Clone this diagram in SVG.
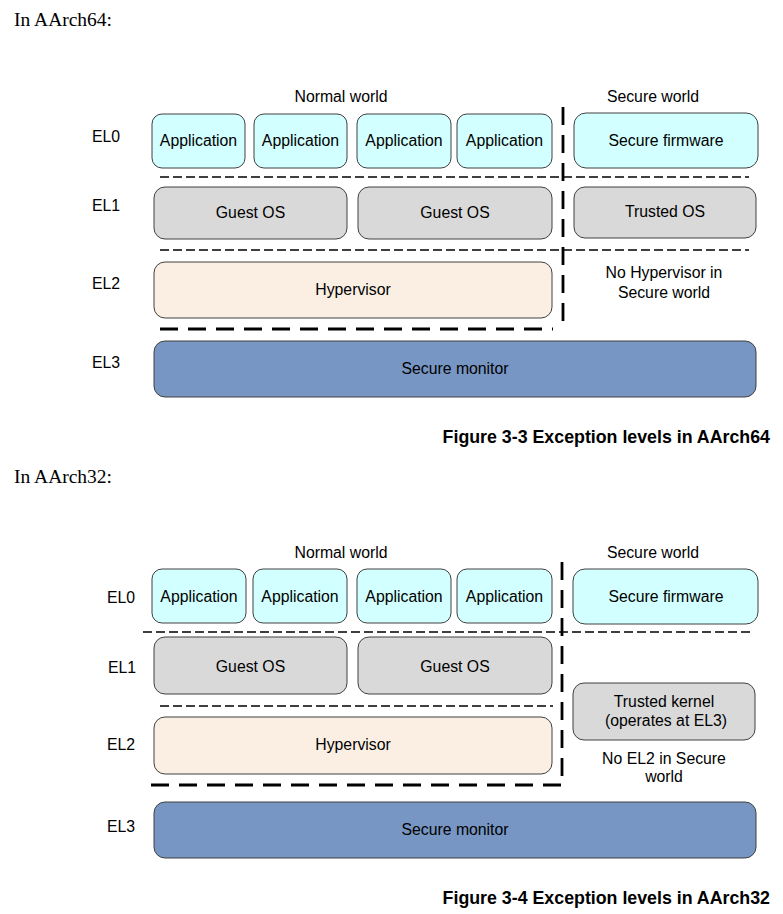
<svg xmlns="http://www.w3.org/2000/svg" width="783" height="914" viewBox="0 0 783 914">
<style>
text{font-family:"Liberation Sans",Arial,sans-serif;font-size:15.8px;fill:#000}
.c{text-anchor:middle}
.h{font-family:"Liberation Serif","Times New Roman",serif;font-size:19.5px}
.cap{font-weight:bold;font-size:17.8px;text-anchor:end}
.box{stroke:#404040;stroke-width:1}
.app{fill:#d2ffff}
.os{fill:#d9d9d9}
.hyp{fill:#fbefe4}
.mon{fill:#7796c4}
.thin{stroke:#000;stroke-width:1.5;stroke-dasharray:9 4;fill:none}
.thick{stroke:#000;stroke-width:2.8;stroke-dasharray:18 10;fill:none}
</style>
<rect width="783" height="914" fill="#fff"/>

<!-- ===== AArch64 ===== -->
<text class="h" x="14" y="26">In AArch64:</text>
<text class="c" x="341" y="102">Normal world</text>
<text class="c" x="653" y="102">Secure world</text>
<text x="92" y="142">EL0</text>
<text x="92" y="211">EL1</text>
<text x="92" y="289">EL2</text>
<text x="92" y="368">EL3</text>

<g id="connectors64">
<line class="thin" x1="160" y1="177" x2="749" y2="177"/>
<line class="thin" x1="160" y1="250" x2="749" y2="250"/>
<line class="thick" x1="563" y1="107" x2="563" y2="324"/>
<line class="thick" x1="160" y1="329" x2="553" y2="329"/>
</g>

<g id="a64-app1"><rect class="box app" x="152" y="114" width="93" height="54" rx="10"/><text class="c" x="198.5" y="146">Application</text></g>
<g id="a64-app2"><rect class="box app" x="254" y="114" width="93" height="54" rx="10"/><text class="c" x="300.5" y="146">Application</text></g>
<g id="a64-app3"><rect class="box app" x="357" y="114" width="94" height="54" rx="10"/><text class="c" x="404" y="146">Application</text></g>
<g id="a64-app4"><rect class="box app" x="457" y="114" width="95" height="54" rx="10"/><text class="c" x="504.5" y="146">Application</text></g>
<g id="a64-fw"><rect class="box app" x="574" y="113" width="184" height="55" rx="12"/><text class="c" x="666" y="146">Secure firmware</text></g>
<g id="a64-guest1"><rect class="box os" x="154" y="187" width="193" height="52" rx="11"/><text class="c" x="250.5" y="218">Guest OS</text></g>
<g id="a64-guest2"><rect class="box os" x="358" y="187" width="194" height="52" rx="11"/><text class="c" x="455" y="218">Guest OS</text></g>
<g id="a64-tos"><rect class="box os" x="574" y="187" width="182" height="51" rx="11"/><text class="c" x="665" y="217">Trusted OS</text></g>
<g id="a64-hyp"><rect class="box hyp" x="154" y="262" width="398" height="56" rx="11"/><text class="c" x="353" y="295">Hypervisor</text></g>
<g id="a64-nohyp"><text class="c" x="664" y="278">No Hypervisor in</text><text class="c" x="664" y="298">Secure world</text></g>
<g id="a64-mon"><rect class="box mon" x="154" y="341" width="602" height="56" rx="11"/><text class="c" x="455" y="374">Secure monitor</text></g>
<text class="cap" x="770" y="443">Figure 3-3 Exception levels in AArch64</text>

<!-- ===== AArch32 ===== -->
<text class="h" x="14" y="483">In AArch32:</text>
<text class="c" x="341" y="558">Normal world</text>
<text class="c" x="653" y="558">Secure world</text>
<text x="107" y="603">EL0</text>
<text x="108" y="673">EL1</text>
<text x="107" y="750">EL2</text>
<text x="107" y="832">EL3</text>

<g id="connectors32">
<line class="thin" x1="143" y1="632" x2="750" y2="632"/>
<line class="thin" x1="160" y1="706" x2="553" y2="706"/>
<polyline class="thick" points="562,562 562,785 149,785"/>
</g>

<g id="a32-app1"><rect class="box app" x="152" y="569" width="94" height="54" rx="10"/><text class="c" x="199" y="602">Application</text></g>
<g id="a32-app2"><rect class="box app" x="253" y="569" width="94" height="54" rx="10"/><text class="c" x="300" y="602">Application</text></g>
<g id="a32-app3"><rect class="box app" x="357" y="569" width="94" height="54" rx="10"/><text class="c" x="404" y="602">Application</text></g>
<g id="a32-app4"><rect class="box app" x="457" y="569" width="95" height="54" rx="10"/><text class="c" x="504.5" y="602">Application</text></g>
<g id="a32-fw"><rect class="box app" x="573" y="569" width="185" height="55" rx="12"/><text class="c" x="666" y="602">Secure firmware</text></g>
<g id="a32-guest1"><rect class="box os" x="154" y="637" width="193" height="57" rx="11"/><text class="c" x="250.5" y="672">Guest OS</text></g>
<g id="a32-guest2"><rect class="box os" x="358" y="637" width="194" height="57" rx="11"/><text class="c" x="455" y="672">Guest OS</text></g>
<g id="a32-tk"><rect class="box os" x="573" y="683" width="182" height="57" rx="11"/><text class="c" x="664" y="707">Trusted kernel</text><text class="c" x="666" y="726">(operates at EL3)</text></g>
<g id="a32-hyp"><rect class="box hyp" x="154" y="717" width="398" height="57" rx="11"/><text class="c" x="353" y="750">Hypervisor</text></g>
<g id="a32-noel2"><text class="c" x="664" y="764">No EL2 in Secure</text><text class="c" x="664" y="782">world</text></g>
<g id="a32-mon"><rect class="box mon" x="154" y="802" width="602" height="56" rx="11"/><text class="c" x="455" y="835">Secure monitor</text></g>
<text class="cap" x="770" y="904">Figure 3-4 Exception levels in AArch32</text>
</svg>
